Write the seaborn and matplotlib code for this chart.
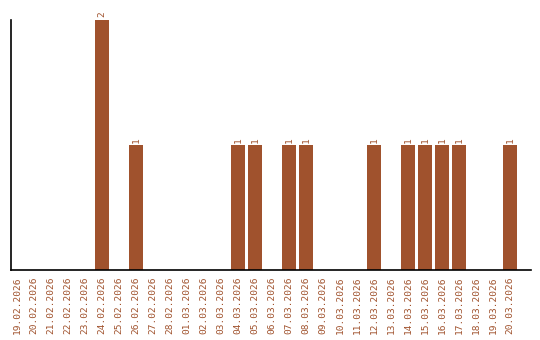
import matplotlib
matplotlib.use("Agg")
import matplotlib.pyplot as plt
import seaborn as sns
import pandas as pd

dates = ["19.02.2026", "20.02.2026", "21.02.2026", "22.02.2026", "23.02.2026",
         "24.02.2026", "25.02.2026", "26.02.2026", "27.02.2026", "28.02.2026",
         "01.03.2026", "02.03.2026", "03.03.2026", "04.03.2026", "05.03.2026",
         "06.03.2026", "07.03.2026", "08.03.2026", "09.03.2026", "10.03.2026",
         "11.03.2026", "12.03.2026", "13.03.2026", "14.03.2026", "15.03.2026",
         "16.03.2026", "17.03.2026", "18.03.2026", "19.03.2026", "20.03.2026"]
counts = [0, 0, 0, 0, 0,
          2, 0, 1, 0, 0,
          0, 0, 0, 1, 1,
          0, 1, 1, 0, 0,
          0, 1, 0, 1, 1,
          1, 1, 0, 0, 1]

color = "#A0522D"
sns.set_style("white")
plt.rcParams['font.family'] = ['DejaVu Sans Mono', 'DejaVu Sans']

df = pd.DataFrame({"date": dates, "count": counts})

W, H = 540, 340
fig = plt.figure(figsize=(W / 100, H / 100), dpi=100)
ax = fig.add_axes([10.5 / W, (H - 270) / H, (530.5 - 10.5) / W, (270 - 19.5) / H])

sns.barplot(data=df, x="date", y="count", color=color, saturation=1,
            width=14 / 17, ax=ax, order=dates, linewidth=0, edgecolor="none")

ax.set_xlim(-0.38, 30.2)
ax.set_ylim(0, 2)
ax.set_xlabel("")
ax.set_ylabel("")
ax.set_yticks([])
ax.tick_params(axis="x", length=0, pad=5, labelsize=6.8, labelcolor=color, rotation=90)
for s in ["top", "right"]:
    ax.spines[s].set_visible(False)
for s in ["left", "bottom"]:
    ax.spines[s].set_color("black")
    ax.spines[s].set_linewidth(1.2)

for i, c in enumerate(counts):
    if c > 0:
        ax.annotate(str(c), (i, c), xytext=(0, 1.5), textcoords="offset points",
                    ha="center", va="bottom", rotation=90, fontsize=6.8,
                    color=color, annotation_clip=False)

fig.savefig("out.png", dpi=100, facecolor="white")
